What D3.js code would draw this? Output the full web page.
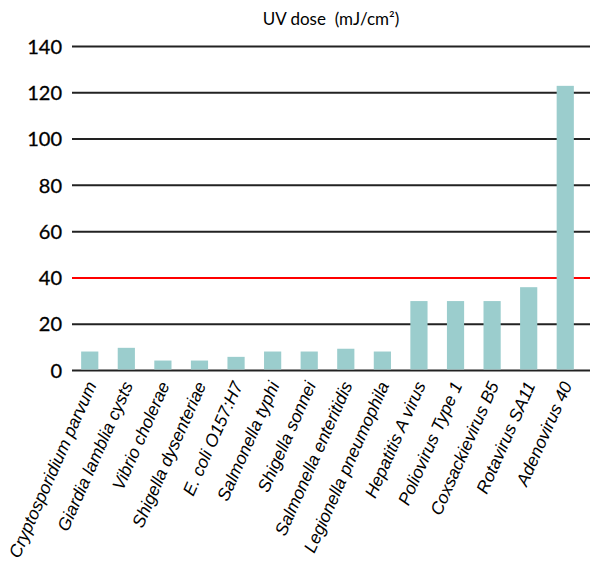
<!DOCTYPE html>
<html>
<head>
<meta charset="utf-8">
<script src="https://cdn.jsdelivr.net/npm/d3@7"></script>
<style>
  body { margin: 0; background: #fff; }
</style>
</head>
<body>
<div id="chart"></div>
<script>
// pathogens and UV dose needed (mJ/cm2)
var categories = ["Cryptosporidium parvum", "Giardia lamblia cysts", "Vibrio cholerae",
  "Shigella dysenteriae", "E. coli O157:H7", "Salmonella typhi", "Shigella sonnei",
  "Salmonella enteritidis", "Legionella pneumophila", "Hepatitis A virus",
  "Poliovirus Type 1", "Coxsackievirus B5", "Rotavirus SA11", "Adenovirus 40"];
var doses = [8.2, 9.8, 4.3, 4.3, 5.9, 8.2, 8.2, 9.4, 8.2, 30, 30, 30, 36, 123];
var yTicks = [0, 20, 40, 60, 80, 100, 120, 140];
var limit = 40;

const width = 590, height = 568;
const mLeft = 72, mRight = 583, mTop = 46.5, mBottom = 370.5;

const svg = d3.select("#chart")
  .append("svg")
  .attr("width", width)
  .attr("height", height);

var x = d3.scaleBand()
  .domain(categories)
  .range([mLeft, mRight])
  .paddingInner(0.53)
  .paddingOuter(0.25);

var y = d3.scaleLinear()
  .domain([0, 140])
  .range([mBottom, mTop]);

// title (keep the double space)
svg.append("text")
  .attr("x", 331)
  .attr("y", 25)
  .attr("text-anchor", "middle")
  .style("white-space", "pre")
  .style("font-family", "Lato, 'Open Sans', sans-serif")
  .style("font-size", "17px")
  .text("UV dose  (mJ/cm\u00b2)");

// gridlines
svg.append("g")
  .selectAll("line")
  .data(yTicks)
  .enter()
  .append("line")
  .attr("x1", mLeft)
  .attr("x2", width)
  .attr("y1", d => y(d))
  .attr("y2", d => y(d))
  .attr("stroke", d => d == limit ? "#ff0000" : "#222")
  .attr("stroke-width", 2);

// y axis labels
svg.append("g")
  .selectAll("text")
  .data(yTicks)
  .enter()
  .append("text")
  .attr("x", 62)
  .attr("y", d => y(d))
  .attr("dy", "0.36em")
  .attr("text-anchor", "end")
  .style("font-family", "Lato, 'Open Sans', sans-serif")
  .style("font-size", "20px")
  .style("stroke", "#000")
  .style("stroke-width", 0.3)
  .text(d => d);

// bars
svg.append("g")
  .selectAll("rect")
  .data(doses)
  .enter()
  .append("rect")
  .attr("x", (d, i) => x(categories[i]))
  .attr("width", x.bandwidth())
  .attr("y", d => y(d))
  .attr("height", d => y(0) - y(d) - 1)
  .attr("fill", "#9bcdcd");

// category labels, rotated
svg.append("g")
  .selectAll("text")
  .data(categories)
  .enter()
  .append("text")
  .attr("transform", d => "translate(" + (x(d) + x.bandwidth() / 2 + 1.5) + "," + (mBottom + 12) + ") rotate(-66)")
  .attr("text-anchor", "end")
  .attr("dy", "0.35em")
  .style("font-family", "'Liberation Sans', Arial, sans-serif")
  .style("font-style", "italic")
  .style("font-size", "17.5px")
  .text(d => d);
</script>
</body>
</html>
